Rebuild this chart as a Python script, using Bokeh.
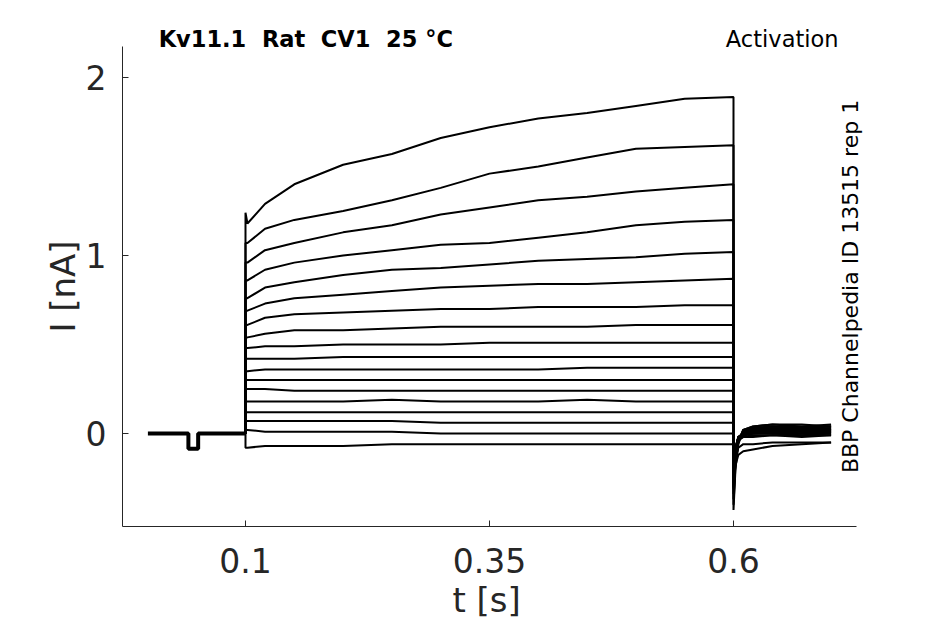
import math
from bokeh.plotting import figure
from bokeh.models import Range1d, FixedTicker, Label
from bokeh.embed import file_html
from bokeh.resources import INLINE

# ---- data (time in s, current in nA) ----
T_PRE = [0.0, 0.0415, 0.0415, 0.0515, 0.0515, 0.1]
I_PRE = [0.0, 0.0, -0.085, -0.085, 0.0, 0.0]

T_STEP = [0.1, 0.102, 0.12, 0.15, 0.2, 0.25, 0.3, 0.35, 0.4, 0.45, 0.5, 0.55, 0.6]
STEP = [
    [1.24, 1.18, 1.29, 1.40, 1.51, 1.57, 1.66, 1.72, 1.77, 1.80, 1.84, 1.88, 1.89],
    [1.07, 1.07, 1.15, 1.20, 1.25, 1.31, 1.38, 1.46, 1.50, 1.55, 1.60, 1.61, 1.62],
    [0.96, 0.96, 1.03, 1.07, 1.13, 1.17, 1.23, 1.27, 1.31, 1.33, 1.36, 1.38, 1.40],
    [0.86, 0.86, 0.92, 0.96, 1.00, 1.03, 1.06, 1.07, 1.10, 1.13, 1.17, 1.19, 1.20],
    [0.76, 0.76, 0.82, 0.85, 0.89, 0.92, 0.93, 0.95, 0.97, 0.98, 0.99, 1.01, 1.02],
    [0.69, 0.69, 0.73, 0.76, 0.78, 0.80, 0.82, 0.83, 0.84, 0.84, 0.85, 0.86, 0.87],
    [0.61, 0.61, 0.65, 0.67, 0.68, 0.69, 0.70, 0.70, 0.71, 0.71, 0.71, 0.72, 0.72],
    [0.54, 0.54, 0.56, 0.58, 0.58, 0.59, 0.60, 0.60, 0.60, 0.60, 0.61, 0.61, 0.61],
    [0.48, 0.48, 0.49, 0.49, 0.50, 0.50, 0.50, 0.51, 0.51, 0.51, 0.51, 0.51, 0.51],
    [0.42, 0.42, 0.42, 0.42, 0.43, 0.43, 0.43, 0.43, 0.43, 0.43, 0.43, 0.43, 0.43],
    [0.35, 0.35, 0.36, 0.36, 0.36, 0.36, 0.36, 0.36, 0.36, 0.37, 0.37, 0.37, 0.37],
    [0.30, 0.30, 0.30, 0.30, 0.30, 0.30, 0.30, 0.30, 0.30, 0.30, 0.30, 0.30, 0.30],
    [0.25, 0.25, 0.25, 0.24, 0.24, 0.24, 0.24, 0.24, 0.24, 0.24, 0.24, 0.24, 0.24],
    [0.18, 0.18, 0.18, 0.18, 0.18, 0.19, 0.18, 0.18, 0.18, 0.19, 0.18, 0.18, 0.18],
    [0.12, 0.12, 0.12, 0.12, 0.12, 0.12, 0.12, 0.12, 0.12, 0.12, 0.12, 0.12, 0.12],
    [0.07, 0.07, 0.07, 0.07, 0.07, 0.07, 0.06, 0.06, 0.06, 0.06, 0.06, 0.06, 0.06],
    [0.02, 0.02, 0.01, 0.01, 0.01, 0.01, 0.00, 0.00, 0.00, 0.00, 0.00, 0.00, 0.00],
    [-0.08, -0.08, -0.07, -0.07, -0.07, -0.06, -0.06, -0.06, -0.06, -0.06, -0.06, -0.06, -0.06],
]

T_TAIL = [0.6, 0.602, 0.605, 0.61, 0.62, 0.64, 0.67, 0.7]
TAIL = [
    [-0.43, -0.20, -0.06, 0.02, 0.04, 0.05, 0.05, 0.04],
    [-0.40, -0.18, -0.05, 0.02, 0.04, 0.05, 0.04, 0.05],
    [-0.37, -0.16, -0.04, 0.02, 0.03, 0.04, 0.04, 0.04],
    [-0.34, -0.15, -0.04, 0.01, 0.03, 0.04, 0.03, 0.04],
    [-0.31, -0.13, -0.03, 0.01, 0.03, 0.03, 0.03, 0.03],
    [-0.28, -0.12, -0.03, 0.01, 0.02, 0.03, 0.03, 0.02],
    [-0.26, -0.11, -0.03, 0.00, 0.02, 0.02, 0.02, 0.03],
    [-0.24, -0.10, -0.02, 0.00, 0.02, 0.02, 0.02, 0.02],
    [-0.22, -0.09, -0.02, 0.00, 0.01, 0.02, 0.01, 0.02],
    [-0.21, -0.09, -0.02, 0.00, 0.01, 0.01, 0.01, 0.01],
    [-0.20, -0.08, -0.02, 0.00, 0.01, 0.01, 0.01, 0.01],
    [-0.19, -0.08, -0.02, -0.01, 0.00, 0.01, 0.00, 0.01],
    [-0.18, -0.08, -0.02, -0.01, 0.00, 0.00, 0.00, 0.00],
    [-0.18, -0.08, -0.03, -0.01, 0.00, 0.00, -0.01, 0.00],
    [-0.19, -0.09, -0.03, -0.02, -0.01, -0.01, -0.01, -0.01],
    [-0.20, -0.10, -0.04, -0.02, -0.02, -0.01, -0.02, -0.01],
    [-0.25, -0.14, -0.08, -0.06, -0.06, -0.05, -0.05, -0.05],
    [-0.30, -0.18, -0.12, -0.10, -0.09, -0.07, -0.06, -0.05],
]

X_TICKS = [0.1, 0.35, 0.6]
X_TICK_LABELS = ["0.1", "0.35", "0.6"]
Y_TICKS = [0, 1, 2]
X_AXIS_SPAN = (-0.026, 0.726)
Y_AXIS_SPAN = (-0.522, 2.174)

X_LABEL = "t [s]"
Y_LABEL = "I [nA]"
TITLE = "Kv11.1 \u00a0Rat \u00a0CV1 \u00a025 °C"
PROTOCOL = "Activation"
SOURCE = "BBP Channelpedia ID 13515 rep 1"

FONT = "DejaVu Sans"
TXT = "#262626"

W, H = 929, 624
# whole canvas is the plot frame; axes are pinned at the data edges
p = figure(width=W, height=H, output_backend="svg", toolbar_location=None,
           x_range=Range1d(-0.15102, 0.80082),
           y_range=Range1d(-1.07303, 2.43258),
           min_border=0, min_border_left=0, min_border_right=0,
           min_border_top=0, min_border_bottom=0)
p.outline_line_color = None
p.xgrid.visible = False
p.ygrid.visible = False
p.background_fill_color = "white"
p.border_fill_color = "white"

# baseline before the step (all sweeps overlap here)
p.line(T_PRE, I_PRE, line_color="black", line_width=4)

for step, tail in zip(STEP, TAIL):
    xs = [T_STEP[0]] + T_STEP + T_TAIL
    ys = [0.0] + step + tail
    p.line(xs, ys, line_color="black", line_width=2)

for ax in (p.xaxis[0], p.yaxis[0]):
    ax.axis_line_color = TXT
    ax.axis_line_width = 1
    ax.major_tick_line_color = TXT
    ax.major_tick_in = 6
    ax.major_tick_out = 0
    ax.minor_tick_line_color = None
    ax.major_label_text_font = FONT
    ax.major_label_text_font_size = "33px"
    ax.major_label_text_color = TXT

p.xaxis.fixed_location = Y_AXIS_SPAN[0]
p.xaxis.bounds = X_AXIS_SPAN
p.xaxis.ticker = FixedTicker(ticks=X_TICKS)
p.xaxis.major_label_overrides = {t: s for t, s in zip(X_TICKS, X_TICK_LABELS)}
p.xaxis.major_label_standoff = 22

p.yaxis.fixed_location = X_AXIS_SPAN[0]
p.yaxis.bounds = Y_AXIS_SPAN
p.yaxis.ticker = FixedTicker(ticks=Y_TICKS)
p.yaxis.major_label_standoff = 16

p.add_layout(Label(x=0.347, y=-0.938, text=X_LABEL, text_font=FONT,
                   text_font_size="34px", text_color=TXT,
                   text_align="center", text_baseline="middle"))
p.add_layout(Label(x=-0.0865, y=0.826, text=Y_LABEL, text_font=FONT,
                   text_font_size="34px", text_color=TXT,
                   text_align="center", text_baseline="middle",
                   angle=math.pi / 2))

p.add_layout(Label(x=0.011, y=Y_AXIS_SPAN[1], text=TITLE, text_font=FONT,
                   text_font_size="22.5px", text_font_style="bold",
                   text_color="black", text_align="left",
                   text_baseline="alphabetic", y_offset=8))
p.add_layout(Label(x=0.7076, y=Y_AXIS_SPAN[1], text=PROTOCOL, text_font=FONT,
                   text_font_size="22.5px", text_color="black",
                   text_align="right", text_baseline="alphabetic", y_offset=8))
p.add_layout(Label(x=0.7199, y=0.826, text=SOURCE, text_font=FONT,
                   text_font_size="22px", text_color="black",
                   text_align="center", text_baseline="middle",
                   angle=math.pi / 2))

open("out.html", "w").write(file_html(p, INLINE))
